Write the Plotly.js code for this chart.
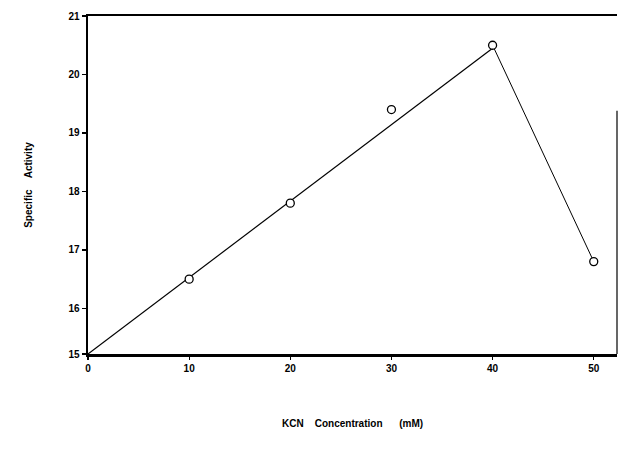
<!DOCTYPE html>
<html>
<head>
<meta charset="utf-8">
<script src="https://cdn.plot.ly/plotly-3.0.1.min.js"></script>
<style>html,body{margin:0;padding:0;background:#fff;}#chart{width:618px;height:450px;}</style>
</head>
<body>
<div id="chart"></div>
<script>
// Data
const kcnConc = [10, 20, 30, 40, 50];
const specificActivity = [16.5, 17.8, 19.4, 20.5, 16.8];
// The printed axis places its "15" label at a compressed position at the bottom corner
const yBottom = 15.22;
// Straight fitted line from the corner (labelled 15) to the peak
const fitX = [0, 40];
const fitY = [yBottom, 20.45];
// Drop segment after peak
const dropX = [40, 50];
const dropY = [20.5, 16.8];
const xTicks = [0, 10, 20, 30, 40, 50];
const yTicks = [yBottom, 16, 17, 18, 19, 20, 21];
const yTickText = ['15', '16', '17', '18', '19', '20', '21'];

const font = {family: 'Liberation Sans, Arial, sans-serif', color: '#000'};

const traces = [
  {x: fitX, y: fitY, mode: 'lines', line: {color: '#000', width: 1.2}, hoverinfo: 'skip', showlegend: false},
  {x: dropX, y: dropY, mode: 'lines', line: {color: '#000', width: 1}, hoverinfo: 'skip', showlegend: false},
  {x: kcnConc, y: specificActivity, mode: 'markers',
   marker: {symbol: 'circle', size: 8, color: '#fff', line: {color: '#000', width: 1.3}},
   showlegend: false}
];

const layout = {
  width: 618, height: 450,
  margin: {l: 88, r: 1, t: 16, b: 96},
  paper_bgcolor: '#fff', plot_bgcolor: '#fff',
  showlegend: false,
  xaxis: {
    range: [0, 52.3], tickvals: xTicks, ticktext: xTicks.map(String),
    showgrid: false, zeroline: false,
    showline: true, linewidth: 2.5, linecolor: '#000', mirror: true,
    ticks: 'outside', ticklen: 3, tickwidth: 1.2, tickcolor: '#000',
    tickfont: Object.assign({size: 10, weight: 'bold'}, font),
    title: {text: 'KCN&nbsp;&nbsp;&nbsp;&nbsp;Concentration&nbsp;&nbsp;&nbsp;&nbsp;&nbsp;&nbsp;(mM)', standoff: 48,
            font: Object.assign({size: 10, weight: 'bold'}, font)}
  },
  yaxis: {
    range: [yBottom, 21], tickvals: yTicks, ticktext: yTickText,
    showgrid: false, zeroline: false,
    showline: true, linewidth: 2.5, linecolor: '#000', mirror: false,
    ticks: 'outside', ticklen: 4, tickwidth: 1.2, tickcolor: '#000',
    tickfont: Object.assign({size: 10, weight: 'bold'}, font),
    title: {text: 'Specific&nbsp;&nbsp;&nbsp;&nbsp;Activity', standoff: 34,
            font: Object.assign({size: 10, weight: 'bold'}, font)}
  },
  shapes: [
    {type: 'line', xref: 'paper', yref: 'paper', x0: 1, x1: 1, y0: 0, y1: 0.72,
     line: {color: '#000', width: 1.2}}
  ]
};

Plotly.newPlot('chart', traces, layout, {displayModeBar: false, staticPlot: true});
</script>
</body>
</html>
